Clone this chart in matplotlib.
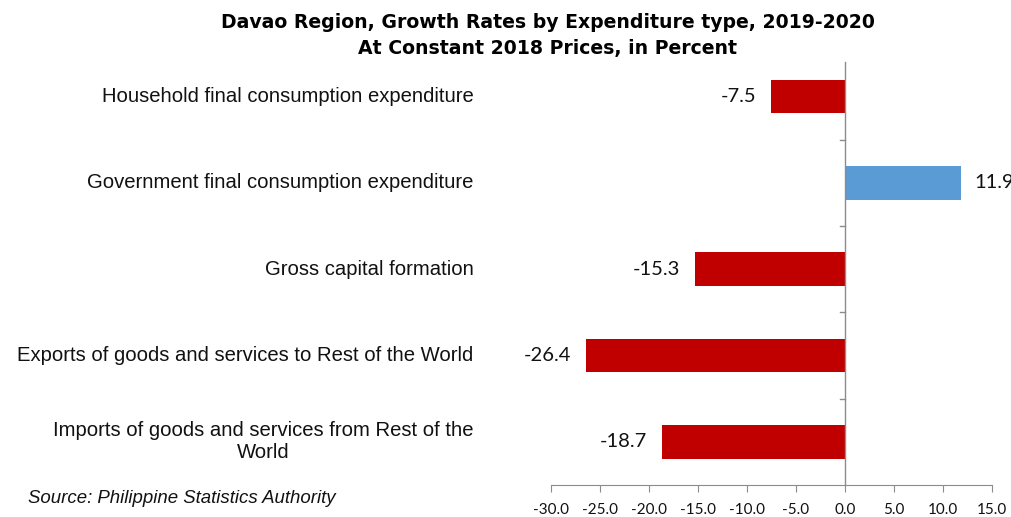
import matplotlib
matplotlib.use('Agg')
import matplotlib.pyplot as plt

categories = [
    'Household final consumption expenditure',
    'Government final consumption expenditure',
    'Gross capital formation',
    'Exports of goods and services to Rest of the World',
    'Imports of goods and services from Rest of the\nWorld',
]
growth = [-7.5, 11.9, -15.3, -26.4, -18.7]
xticks = [-30, -25, -20, -15, -10, -5, 0, 5, 10, 15]

RED = '#C00000'
BLUE = '#5B9BD5'
GRAY = '#8C8C8C'

fig = plt.figure(figsize=(10.11, 5.17), dpi=100)
ax = fig.add_axes([0.545, 0.062, 0.436, 0.835])

ypos = list(range(len(categories)))
colors = [BLUE if v > 0 else RED for v in growth]
ax.barh(ypos, growth, height=0.39, color=colors, zorder=2)

ax.set_xlim(-30, 15)
ax.set_ylim(len(categories) - 0.5, -0.5)
ax.set_yticks([])
ax.set_xticks(xticks)
ax.set_xticklabels(['%.1f' % t for t in xticks], fontname='Lato', fontsize=11, color='#111111')
ax.tick_params(axis='x', direction='out', length=5, color=GRAY, pad=8)

# category axis sits at zero
for s in ['top', 'right', 'left']:
    ax.spines[s].set_visible(False)
ax.spines['bottom'].set_color(GRAY)
ax.plot([0, 0], [len(categories) - 0.5, -0.4], color=GRAY, lw=1, zorder=3, clip_on=False)
for b in [y + 0.5 for y in ypos[:-1]]:
    ax.plot([-0.45, 0], [b, b], color=GRAY, lw=1, clip_on=False, zorder=3)

# category labels on the left
for y, name in zip(ypos, categories):
    ax.text(-37.9, y, name, ha='right', va='center', fontname='Liberation Sans',
            fontsize=14.6, color='#111111', multialignment='center', clip_on=False)

# value labels
for y, v in zip(ypos, growth):
    if v < 0:
        ax.text(v - 1.5, y, '%.1f' % v, ha='right', va='center', fontname='Lato',
                fontsize=14.5, color='#111111')
    else:
        ax.text(v + 1.3, y, '%.1f' % v, ha='left', va='center', fontname='Lato',
                fontsize=14.5, color='#111111', clip_on=False)

fig.text(0.542, 0.957, 'Davao Region, Growth Rates by Expenditure type, 2019-2020',
         ha='center', va='center', fontsize=13.6, fontweight='bold', family='DejaVu Sans')
fig.text(0.542, 0.907, 'At Constant 2018 Prices, in Percent',
         ha='center', va='center', fontsize=13.6, fontweight='bold', family='DejaVu Sans')

fig.text(0.028, 0.035, 'Source: Philippine Statistics Authority', ha='left', va='center',
         fontsize=13.4, style='italic', fontname='Liberation Sans', color='#111111')

fig.savefig('out.png', dpi=100)
